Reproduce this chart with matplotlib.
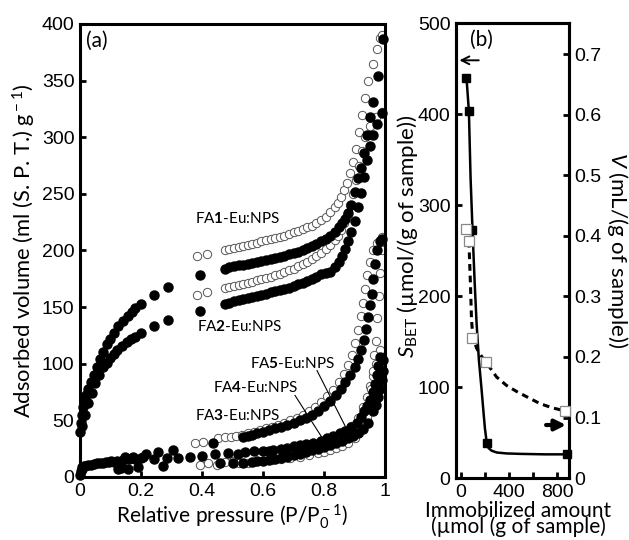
import numpy as np
import matplotlib
matplotlib.use('Agg')
import matplotlib.pyplot as plt

plt.rcParams['font.family'] = ['Liberation Sans', 'DejaVu Sans']
plt.rcParams['mathtext.fontset'] = 'custom'
plt.rcParams['mathtext.rm'] = 'Lato'
plt.rcParams['mathtext.it'] = 'Lato:italic'
plt.rcParams['mathtext.bf'] = 'Lato:bold'

### PANEL (a) DATA : relative pressure / adsorbed volume ###

# FA1 adsorption (filled)
fa1_ads_p = [0.0, 0.003, 0.006, 0.01, 0.015, 0.02, 0.027, 0.035, 0.045, 0.055, 0.066, 0.075, 0.088, 0.098,
             0.11, 0.126, 0.14, 0.158, 0.17, 0.18, 0.2, 0.243, 0.29,
             0.393, 0.475, 0.49, 0.505, 0.52, 0.535, 0.55, 0.565, 0.58, 0.595, 0.61, 0.625, 0.64, 0.655,
             0.67, 0.685, 0.7, 0.715, 0.73, 0.745, 0.76, 0.775, 0.79, 0.805, 0.82, 0.835, 0.85, 0.86, 0.87,
             0.88, 0.89, 0.9, 0.91, 0.92, 0.93, 0.94, 0.95, 0.962, 0.978, 0.994]
fa1_ads_v = [40, 48, 55, 62, 68, 72, 78, 84, 90, 97, 104, 110, 117, 122,
             127, 133, 138, 142, 146, 149, 153, 161, 168,
             178, 184, 185, 186, 187, 187.5, 188, 189, 190, 190.5, 191.5, 192.5, 193.5, 194.5,
             195.5, 196.5, 197.5, 199, 200.5, 202, 204, 206, 208, 210.5, 213, 216.5, 220.5, 224, 228,
             233, 240, 252, 264, 273, 286, 302, 318, 331, 354, 387]

# FA1 desorption (open)
fa1_des_p = [0.383, 0.415, 0.475, 0.49, 0.505, 0.52, 0.535, 0.55, 0.565, 0.58, 0.595, 0.61, 0.625, 0.64,
             0.655, 0.67, 0.685, 0.7, 0.715, 0.73, 0.745, 0.76, 0.775, 0.79, 0.805, 0.82, 0.835, 0.845,
             0.855, 0.865, 0.875, 0.885, 0.895, 0.905, 0.915, 0.925, 0.935, 0.945, 0.96, 0.975, 0.985, 0.99]
fa1_des_v = [195, 197, 200, 201, 202, 203, 204, 205, 206, 207, 208, 209, 210, 211,
             212, 213, 214.5, 216, 217.5, 219, 220.5, 222, 224, 227, 230, 234, 238, 242,
             247, 253, 260, 268, 278, 290, 305, 320, 335, 350, 365, 378, 388, 390]

# FA2 adsorption (filled)
fa2_ads_p = [0.005, 0.015, 0.027, 0.038, 0.049, 0.062, 0.076, 0.088, 0.098, 0.11, 0.12, 0.137, 0.153,
             0.167, 0.18, 0.2, 0.243, 0.29,
             0.393, 0.475, 0.49, 0.505, 0.52, 0.535, 0.55, 0.565, 0.58, 0.595, 0.61, 0.625, 0.64, 0.655,
             0.67, 0.685, 0.7, 0.715, 0.73, 0.745, 0.76, 0.775, 0.79, 0.805, 0.82, 0.835, 0.85, 0.86,
             0.87, 0.88, 0.89, 0.9, 0.91, 0.92, 0.93, 0.94, 0.95, 0.96, 0.975, 0.99]
fa2_ads_v = [45, 55, 65, 74, 83, 90, 97, 101, 105, 109, 112, 116, 119.5,
             122, 124, 127.5, 133.5, 138.5,
             147, 153, 154, 155, 156, 157, 158, 159, 160, 161, 162, 163, 164, 165,
             166, 167, 168.5, 170, 171.5, 173, 175, 177, 179, 180, 181, 185, 190, 195,
             201, 208, 216, 226, 238, 251, 265, 280, 292, 302, 312, 321]

# FA2 desorption (open)
fa2_des_p = [0.383, 0.415, 0.475, 0.49, 0.505, 0.52, 0.535, 0.55, 0.565, 0.58, 0.595, 0.61, 0.625, 0.64,
             0.655, 0.67, 0.685, 0.7, 0.715, 0.73, 0.745, 0.76, 0.775, 0.79, 0.805, 0.82, 0.835, 0.845,
             0.855, 0.865, 0.875, 0.885, 0.895, 0.905, 0.915, 0.925, 0.935, 0.95, 0.97, 0.99]
fa2_des_v = [161, 163, 166.5, 167.5, 168.5, 169.5, 170.5, 171.5, 172.5, 173.5, 174.5, 175.5, 177, 178,
             179.5, 181, 182.5, 184, 186, 188, 190, 192.5, 195, 198, 201, 205, 209, 213,
             218, 224, 231, 240, 250, 262, 275, 288, 300, 310, 318, 322]

# FA3 - FA5 : low pressure adsorption points (filled)
low_ads_p = [0.0, 0.002, 0.005, 0.008, 0.012, 0.018, 0.025, 0.035, 0.045, 0.055, 0.065, 0.075, 0.085,
             0.096, 0.1, 0.11, 0.12, 0.126, 0.135, 0.14, 0.148, 0.157, 0.16, 0.175, 0.18, 0.19, 0.2,
             0.207, 0.218, 0.243, 0.256, 0.271, 0.284, 0.305, 0.32, 0.36, 0.399, 0.437, 0.443, 0.459,
             0.486, 0.503, 0.519, 0.533]
low_ads_v = [2, 5, 7, 8.5, 9.5, 10, 10.5, 11, 11.5, 12, 12, 12.5, 13,
             13, 14, 13.5, 14.5, 7, 8, 15, 17.6, 7, 15.5, 18, 16, 9, 17,
             18, 20, 15.6, 22, 10, 16.5, 23.8, 16.5, 18, 18.5, 29.7, 20, 12.6,
             21, 12.6, 20, 12.6]

# upper low isotherm (filled / open)
fa3_ads_p = [0.535, 0.55, 0.565, 0.58, 0.6, 0.62, 0.64, 0.66, 0.68, 0.7, 0.72, 0.74, 0.76, 0.78, 0.8,
             0.82, 0.84, 0.855, 0.87, 0.885, 0.9, 0.912, 0.922, 0.93, 0.937, 0.944, 0.95, 0.956, 0.962,
             0.968, 0.975, 0.985, 0.99]
fa3_ads_v = [35.6, 36.5, 37.5, 38.5, 40, 41.5, 43, 44.5, 46, 48, 50, 52.5, 55, 58.5, 62.5,
             67, 72.5, 78, 84, 90, 97, 104, 112, 121, 131, 141, 152, 162, 175,
             188, 200, 208, 210]
fa3_des_p = [0.376, 0.403, 0.452, 0.475, 0.495, 0.51, 0.53, 0.55, 0.57, 0.59, 0.61, 0.63, 0.65, 0.67,
             0.69, 0.71, 0.73, 0.75, 0.77, 0.79, 0.81, 0.83, 0.85, 0.865, 0.88, 0.892, 0.903, 0.912,
             0.92, 0.928, 0.935, 0.942, 0.95, 0.96, 0.975, 0.99]
fa3_des_v = [30, 31, 34, 35, 35.5, 36, 37, 38.5, 40, 41.5, 43, 44.5, 46, 48,
             50, 52.5, 55, 58, 62, 66.5, 71.5, 77, 84, 91, 99, 108, 118, 130,
             142, 154, 166, 178, 190, 200, 207, 212]

# middle low isotherm
fa4_ads_p = [0.541, 0.57, 0.6, 0.62, 0.634, 0.66, 0.68, 0.7, 0.72, 0.74, 0.765, 0.79, 0.81, 0.83, 0.852,
             0.87, 0.89, 0.907, 0.92, 0.93, 0.94, 0.95, 0.962, 0.968, 0.973, 0.978, 0.984]
fa4_ads_v = [22.5, 22.8, 23, 23.3, 23.8, 25, 26, 27, 28, 29, 30, 32, 34, 36, 38.5,
             41, 44, 47.5, 53, 58, 63, 68, 75, 82, 90, 98, 106]
fa4_des_p = [0.8, 0.83, 0.86, 0.89, 0.91, 0.929, 0.94, 0.951, 0.962, 0.972, 0.978, 0.984]
fa4_des_v = [32, 35, 39, 45, 52, 62, 71, 80, 89, 100, 108, 112]

# lowest isotherm
fa5_ads_p = [0.563, 0.58, 0.6, 0.62, 0.64, 0.66, 0.68, 0.7, 0.72, 0.74, 0.76, 0.78, 0.8, 0.82, 0.84,
             0.86, 0.88, 0.896, 0.912, 0.929, 0.945, 0.962, 0.97, 0.978, 0.984, 0.989, 0.992, 0.994]
fa5_ads_v = [13.5, 14, 14.5, 15, 16, 17, 18, 19, 20.5, 22, 23.5, 25, 26.5, 28, 30,
             32, 34, 36, 39, 42, 48, 58, 64, 71, 78, 86, 94, 103]
fa5_des_p = [0.392, 0.42, 0.45, 0.474, 0.5, 0.52, 0.55, 0.57, 0.6, 0.63, 0.66, 0.69, 0.72, 0.75, 0.78,
             0.8, 0.82, 0.84, 0.86, 0.88, 0.9, 0.915, 0.93, 0.94, 0.95, 0.955, 0.96, 0.965, 0.97,
             0.975, 0.98, 0.985, 0.99]
fa5_des_v = [10.6, 12, 11, 13.5, 14, 12, 12, 13, 14, 15, 16, 17, 18, 19.5, 21,
             22.5, 24, 25.5, 27.5, 30, 34, 39, 45, 53, 65, 78, 94, 108, 120,
             140, 160, 180, 200]

ads_sets = [(fa1_ads_p, fa1_ads_v), (fa2_ads_p, fa2_ads_v), (low_ads_p, low_ads_v),
            (fa3_ads_p, fa3_ads_v), (fa4_ads_p, fa4_ads_v), (fa5_ads_p, fa5_ads_v)]
des_sets = [(fa1_des_p, fa1_des_v), (fa2_des_p, fa2_des_v), (fa3_des_p, fa3_des_v),
            (fa4_des_p, fa4_des_v), (fa5_des_p, fa5_des_v)]

### PANEL (b) DATA ###
amount_s = [47, 67, 97, 214, 880]
sbet = [440, 403, 273, 39, 26]
amount_v = [44, 67, 89, 211, 864]
vol = [0.412, 0.392, 0.231, 0.191, 0.111]

# fitted guide curves
fit_s_x = [47, 67, 81, 97, 115, 131, 150, 172, 190, 200, 214, 230, 256, 300, 381, 500, 700, 880]
fit_s_y = [440, 403, 330, 273, 215, 170, 130, 98, 70, 55, 40, 33, 30, 28, 27, 26.5, 26, 26]
fit_v_x = [67, 80, 89, 100, 130, 158, 211, 297, 380, 464, 560, 658, 760, 864]
fit_v_y = [0.392, 0.32, 0.26, 0.235, 0.215, 0.205, 0.191, 0.167, 0.153, 0.143, 0.133, 0.123, 0.116, 0.111]

fig = plt.figure(figsize=(6.29, 5.4), dpi=100)
axA = fig.add_axes([0.1272, 0.1167, 0.4849, 0.8389])
axB = fig.add_axes([0.725, 0.1148, 0.1797, 0.8426])

lab_font = 'Lato'

# --- panel a ---
for p, v in des_sets:
    axA.plot(p, v, 'o', ms=6, mfc='white', mec='#555555', mew=0.7, ls='none', clip_on=False, zorder=2)
for p, v in ads_sets:
    axA.plot(p, v, 'o', ms=6.5, mfc='black', mec='black', ls='none', clip_on=False, zorder=3)

axA.set_xlim(0, 1)
axA.set_ylim(0, 400)
axA.set_xticks([0, 0.2, 0.4, 0.6, 0.8, 1])
axA.set_xticklabels(['0', '0.2', '0.4', '0.6', '0.8', '1'])
axA.set_yticks(range(0, 401, 50))
axA.set_xlabel('Relative pressure (P/P$_{\\rm 0}^{\\rm -1}$)', family=lab_font, fontsize=15, labelpad=2)
axA.set_ylabel('Adsorbed volume (ml (S. P. T.) g$^{\\rm -1}$)', family=lab_font, fontsize=15.8, labelpad=3)
axA.text(0.02, 0.985, '(a)', transform=axA.transAxes, family=lab_font, fontsize=15, va='top')

ann_fs = 11
axA.text(0.377, 228, 'FA$\\mathbf{1}$-Eu:NPS', family=lab_font, fontsize=ann_fs, va='center')
axA.text(0.384, 133, 'FA$\\mathbf{2}$-Eu:NPS', family=lab_font, fontsize=ann_fs, va='center')
axA.text(0.557, 100, 'FA$\\mathbf{5}$-Eu:NPS', family=lab_font, fontsize=ann_fs, va='center')
axA.text(0.436, 79, 'FA$\\mathbf{4}$-Eu:NPS', family=lab_font, fontsize=ann_fs, va='center')
axA.text(0.377, 54, 'FA$\\mathbf{3}$-Eu:NPS', family=lab_font, fontsize=ann_fs, va='center')
axA.plot([0.705, 0.793], [72, 35], color='black', lw=0.8, zorder=4)
axA.plot([0.777, 0.89], [94, 34], color='black', lw=0.8, zorder=4)

# --- panel b ---
axB.plot(fit_s_x, fit_s_y, '-', color='black', lw=1.8, zorder=2)
axB.plot(amount_s, sbet, 's', ms=6, color='black', clip_on=False, zorder=4)
axB.set_xlim(-40, 900)
axB.set_ylim(0, 500)
axB.set_xticks([0, 400, 800])
axB.set_xticks([200, 600], minor=True)
axB.set_yticks(range(0, 501, 100))
axB.set_ylabel('$S_{\\rm BET}$ (\u00b5mol/(g of sample))', family=lab_font, fontsize=16)
axB.yaxis.set_label_coords(-0.32, 0.53)
axB.set_xlabel('Immobilized amount\n(\u00b5mol (g of sample)', family=lab_font, fontsize=15,
               linespacing=0.74)
axB.xaxis.set_label_coords(0.55, -0.051)
axB.text(0.12, 0.985, '(b)', transform=axB.transAxes, family=lab_font, fontsize=15, va='top')
axB.annotate('', xy=(-35, 459), xytext=(172, 459),
             arrowprops=dict(arrowstyle='->', color='black', lw=1.4, mutation_scale=14))

axV = axB.twinx()
axV.plot(fit_v_x, fit_v_y, '--', color='black', lw=2.2, dashes=(2.2, 1.6), zorder=2)
axV.plot(amount_v, vol, 's', ms=6.5, mfc='white', mec='#888888', mew=0.9, clip_on=False, zorder=4)
axV.set_ylim(0, 0.752)
axV.set_yticks([0, 0.1, 0.2, 0.3, 0.4, 0.5, 0.6, 0.7])
axV.set_yticklabels(['0', '0.1', '0.2', '0.3', '0.4', '0.5', '0.6', '0.7'])
axV.set_ylabel('$V$ (mL/(g of sample))', family=lab_font, fontsize=16, rotation=270)
axV.yaxis.set_label_coords(1.54, 0.5)
axV.annotate('', xy=(898, 0.0876), xytext=(686, 0.0876),
             arrowprops=dict(arrowstyle='-|>', color='black', lw=3, mutation_scale=16))

for ax in (axA, axB, axV):
    for s in ax.spines.values():
        s.set_linewidth(2.2)
    ax.tick_params(which='both', direction='in', width=2, labelsize=14, pad=4)
    ax.tick_params(which='major', length=4)
    ax.tick_params(which='minor', length=4)

fig.savefig('out.png', dpi=100)
